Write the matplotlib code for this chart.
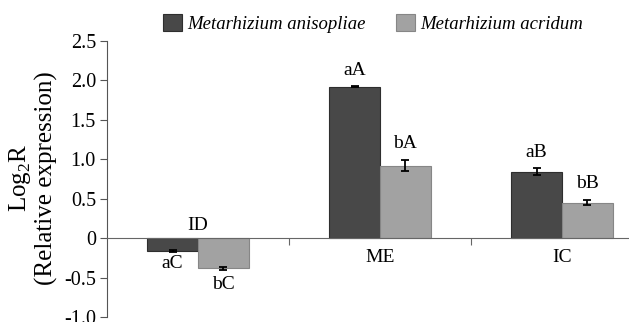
import numpy as np
import matplotlib.pyplot as plt

plt.rcParams['font.family'] = ['Liberation Serif', 'DejaVu Serif']
plt.rcParams['mathtext.fontset'] = 'custom'
plt.rcParams['mathtext.rm'] = 'Liberation Serif'

categories = ["ID", "ME", "IC"]
series_names = ["Metarhizium anisopliae", "Metarhizium acridum"]
anisopliae = [-0.16, 1.92, 0.845]
anisopliae_err = [0.01, 0.005, 0.04]
acridum = [-0.38, 0.92, 0.45]
acridum_err = [0.02, 0.07, 0.03]
labels_anis = ["aC", "aA", "aB"]
labels_acri = ["bC", "bA", "bB"]
yticks = [-1.0, -0.5, 0, 0.5, 1.0, 1.5, 2.0, 2.5]
ytick_labels = ["-1.0", "-0.5", "0", "0.5", "1.0", "1.5", "2.0", "2.5"]


def main():
    fig = plt.figure(figsize=(6.29, 3.22), dpi=100)
    ax = fig.add_axes([107 / 629, 5 / 322, 522 / 629, 276 / 322])

    x = np.arange(len(categories))
    w = 0.28
    dark = "#484848"
    light = "#a2a2a2"
    ekw = dict(ecolor="black", capsize=3, elinewidth=1.3, capthick=1.3)
    ax.bar(x - w / 2, anisopliae, w, color=dark, edgecolor="#2e2e2e", linewidth=0.8,
           yerr=anisopliae_err, error_kw=ekw, label=series_names[0], zorder=2)
    ax.bar(x + w / 2, acridum, w, color=light, edgecolor="#868686", linewidth=0.8,
           yerr=acridum_err, error_kw=ekw, label=series_names[1], zorder=2)

    ax.set_xlim(-0.5, -0.5 + 522 / 182)
    ax.set_ylim(-1.0, 2.5)
    ax.set_yticks(yticks)
    ax.set_yticklabels(ytick_labels, fontsize=14.5)
    ax.tick_params(axis="y", direction="out", length=5, width=0.8, pad=3, color="#555555")

    for s in ["top", "right"]:
        ax.spines[s].set_visible(False)
    ax.spines["bottom"].set_position(("data", 0))
    ax.spines["bottom"].set_color("#666666")
    ax.spines["left"].set_color("#555555")
    ax.set_xticks([0.5, 1.5])
    ax.set_xticklabels([])
    ax.tick_params(axis="x", direction="out", length=5, width=0.8, color="#666666")

    # category names
    ax.text(0, 0.05, categories[0], ha="center", va="bottom", fontsize=14)
    for i in (1, 2):
        ax.text(x[i], -0.14, categories[i], ha="center", va="top", fontsize=14)

    # significance letters
    for i in range(len(categories)):
        a = anisopliae[i]
        b = acridum[i]
        if a >= 0:
            ax.text(x[i] - w / 2, a + anisopliae_err[i] + 0.09, labels_anis[i],
                    ha="center", va="bottom", fontsize=14)
        else:
            ax.text(x[i] - w / 2, a - anisopliae_err[i] - 0.05, labels_anis[i],
                    ha="center", va="top", fontsize=14)
        if b >= 0:
            ax.text(x[i] + w / 2, b + acridum_err[i] + 0.1, labels_acri[i],
                    ha="center", va="bottom", fontsize=14)
        else:
            ax.text(x[i] + w / 2, b - acridum_err[i] - 0.08, labels_acri[i],
                    ha="center", va="top", fontsize=14)

    fig.text(20 / 629, 0.448, "Log$_2$R", rotation=90, ha="center", va="center", fontsize=18)
    fig.text(46 / 629, 0.448, "(Relative expression)", rotation=90, ha="center", va="center",
             fontsize=18)

    fig.legend(loc="center", bbox_to_anchor=(0.593, 0.928), ncol=2, frameon=False,
               prop={"style": "italic", "size": 13.5}, handlelength=1.0, handleheight=1.0,
               handletextpad=0.3, columnspacing=1.6)

    fig.savefig("out.png", dpi=100)


if __name__ == '__main__':
    main()
